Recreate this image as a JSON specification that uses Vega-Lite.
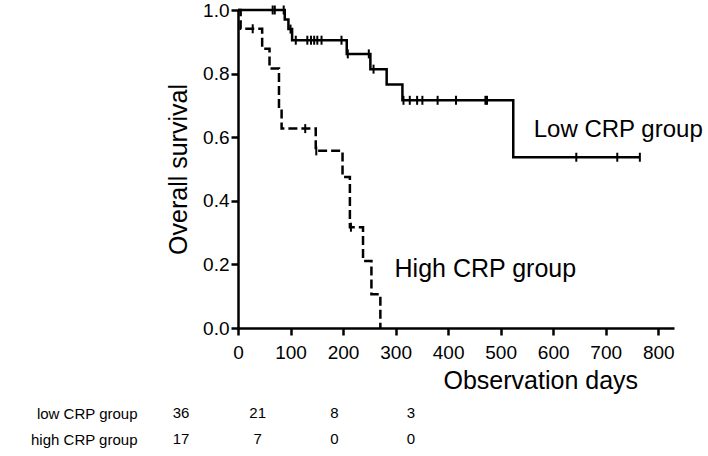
{
  "$schema": "https://vega.github.io/schema/vega-lite/v6.json",
  "width": 436,
  "height": 318,
  "autosize": {"type": "none"},
  "padding": {"left": 238, "top": 10, "right": 34, "bottom": 128},
  "background": "white",
  "config": {
    "view": {"stroke": null},
    "font": "Liberation Sans",
    "axis": {
      "grid": false,
      "domainColor": "black",
      "domainWidth": 2.5,
      "tickColor": "black",
      "tickWidth": 2.5,
      "tickSize": 7,
      "labelColor": "black",
      "labelFont": "Liberation Sans",
      "labelFontSize": 19,
      "titleFont": "Liberation Sans",
      "titleFontSize": 25,
      "titleFontWeight": "normal",
      "titleColor": "black"
    }
  },
  "datasets": {
    "curves": [
      {"group": "low", "day": 0, "surv": 1.0},
      {"group": "low", "day": 89, "surv": 0.97},
      {"group": "low", "day": 96, "surv": 0.94},
      {"group": "low", "day": 103, "surv": 0.905},
      {"group": "low", "day": 207, "surv": 0.862},
      {"group": "low", "day": 252, "surv": 0.814},
      {"group": "low", "day": 283, "surv": 0.766},
      {"group": "low", "day": 313, "surv": 0.716},
      {"group": "low", "day": 524, "surv": 0.537},
      {"group": "low", "day": 765, "surv": 0.537},
      {"group": "high", "day": 0, "surv": 1.0},
      {"group": "high", "day": 5, "surv": 0.941},
      {"group": "high", "day": 46, "surv": 0.878},
      {"group": "high", "day": 60, "surv": 0.816},
      {"group": "high", "day": 78, "surv": 0.69},
      {"group": "high", "day": 83, "surv": 0.627},
      {"group": "high", "day": 148, "surv": 0.557},
      {"group": "high", "day": 199, "surv": 0.475},
      {"group": "high", "day": 213, "surv": 0.317},
      {"group": "high", "day": 238, "surv": 0.211},
      {"group": "high", "day": 254, "surv": 0.106},
      {"group": "high", "day": 271, "surv": 0.0}
    ],
    "censors": [
      {"group": "low", "day": 66, "surv": 1.0},
      {"group": "low", "day": 70, "surv": 1.0},
      {"group": "low", "day": 87, "surv": 1.0},
      {"group": "low", "day": 100, "surv": 0.94},
      {"group": "low", "day": 110, "surv": 0.905},
      {"group": "low", "day": 132, "surv": 0.905},
      {"group": "low", "day": 139, "surv": 0.905},
      {"group": "low", "day": 145, "surv": 0.905},
      {"group": "low", "day": 151, "surv": 0.905},
      {"group": "low", "day": 159, "surv": 0.905},
      {"group": "low", "day": 197, "surv": 0.905},
      {"group": "low", "day": 209, "surv": 0.862},
      {"group": "low", "day": 249, "surv": 0.862},
      {"group": "low", "day": 258, "surv": 0.814},
      {"group": "low", "day": 315, "surv": 0.716},
      {"group": "low", "day": 327, "surv": 0.716},
      {"group": "low", "day": 341, "surv": 0.716},
      {"group": "low", "day": 351, "surv": 0.716},
      {"group": "low", "day": 380, "surv": 0.716},
      {"group": "low", "day": 415, "surv": 0.716},
      {"group": "low", "day": 471, "surv": 0.716},
      {"group": "low", "day": 474, "surv": 0.716},
      {"group": "low", "day": 644, "surv": 0.537},
      {"group": "low", "day": 722, "surv": 0.537},
      {"group": "low", "day": 765, "surv": 0.537},
      {"group": "high", "day": 28, "surv": 0.941},
      {"group": "high", "day": 128, "surv": 0.627},
      {"group": "high", "day": 149, "surv": 0.557},
      {"group": "high", "day": 215, "surv": 0.317}
    ],
    "risk": [
      {"group": "low CRP group", "day": 0, "n": 36},
      {"group": "low CRP group", "day": 200, "n": 21},
      {"group": "low CRP group", "day": 400, "n": 8},
      {"group": "low CRP group", "day": 600, "n": 3},
      {"group": "high CRP group", "day": 0, "n": 17},
      {"group": "high CRP group", "day": 200, "n": 7},
      {"group": "high CRP group", "day": 400, "n": 0},
      {"group": "high CRP group", "day": 600, "n": 0}
    ]
  },
  "layer": [
    {
      "layer": [
        {
          "data": {"name": "curves"},
          "mark": {"type": "line", "interpolate": "step-after", "color": "black", "strokeWidth": 2.5},
          "encoding": {
            "x": {
              "field": "day", "type": "quantitative",
              "scale": {"domain": [0, 830], "nice": false, "zero": false},
              "axis": {"values": [0, 100, 200, 300, 400, 500, 600, 700, 800], "title": "Observation days", "labelPadding": 8, "titlePadding": 6, "labelFlush": false, "titleAnchor": "start", "titleX": 205}
            },
            "y": {
              "field": "surv", "type": "quantitative",
              "scale": {"domain": [0, 1], "nice": false},
              "axis": {"values": [0, 0.2, 0.4, 0.6, 0.8, 1.0], "format": ".1f", "title": "Overall survival", "labelPadding": 2, "titlePadding": 11, "labelFlush": false}
            },
            "detail": {"field": "group"},
            "strokeDash": {
              "field": "group", "type": "nominal",
              "scale": {"domain": ["low", "high"], "range": [[1, 0], [9, 4]]},
              "legend": null
            }
          }
        },
        {
          "data": {"name": "censors"},
          "mark": {"type": "tick", "orient": "vertical", "size": 9, "thickness": 2, "color": "black", "opacity": 1},
          "encoding": {
            "x": {"field": "day", "type": "quantitative"},
            "y": {"field": "surv", "type": "quantitative"}
          }
        },
        {
          "data": {"values": [{}]},
          "mark": {"type": "text", "text": "Low CRP group", "align": "left", "baseline": "middle", "fontSize": 24, "font": "Liberation Sans", "color": "black"},
          "encoding": {
            "x": {"datum": 563, "type": "quantitative"},
            "y": {"datum": 0.624, "type": "quantitative"}
          }
        },
        {
          "data": {"values": [{}]},
          "mark": {"type": "text", "text": "High CRP group", "align": "left", "baseline": "middle", "fontSize": 25, "font": "Liberation Sans", "color": "black"},
          "encoding": {
            "x": {"datum": 298, "type": "quantitative"},
            "y": {"datum": 0.185, "type": "quantitative"}
          }
        }
      ]
    },
    {
      "layer": [
        {
          "data": {"name": "risk"},
          "mark": {"type": "text", "align": "center", "baseline": "middle", "fontSize": 15, "font": "Liberation Sans", "color": "black"},
          "encoding": {
            "x": {"field": "day", "type": "quantitative", "scale": {"domain": [148.7, 1286.1], "nice": false, "zero": false}, "axis": null},
            "y": {
              "field": "group", "type": "nominal",
              "scale": {"type": "point", "padding": 0, "domain": ["low CRP group", "high CRP group"], "range": [403, 429]},
              "axis": {"orient": "left", "ticks": false, "domain": false, "labelPadding": 0, "offset": 101, "title": null, "labelFontSize": 15, "labelFont": "Liberation Sans", "labelBaseline": "middle"}
            },
            "text": {"field": "n", "type": "quantitative"}
          }
        }
      ]
    }
  ],
  "resolve": {"scale": {"x": "independent", "y": "independent"}}
}
